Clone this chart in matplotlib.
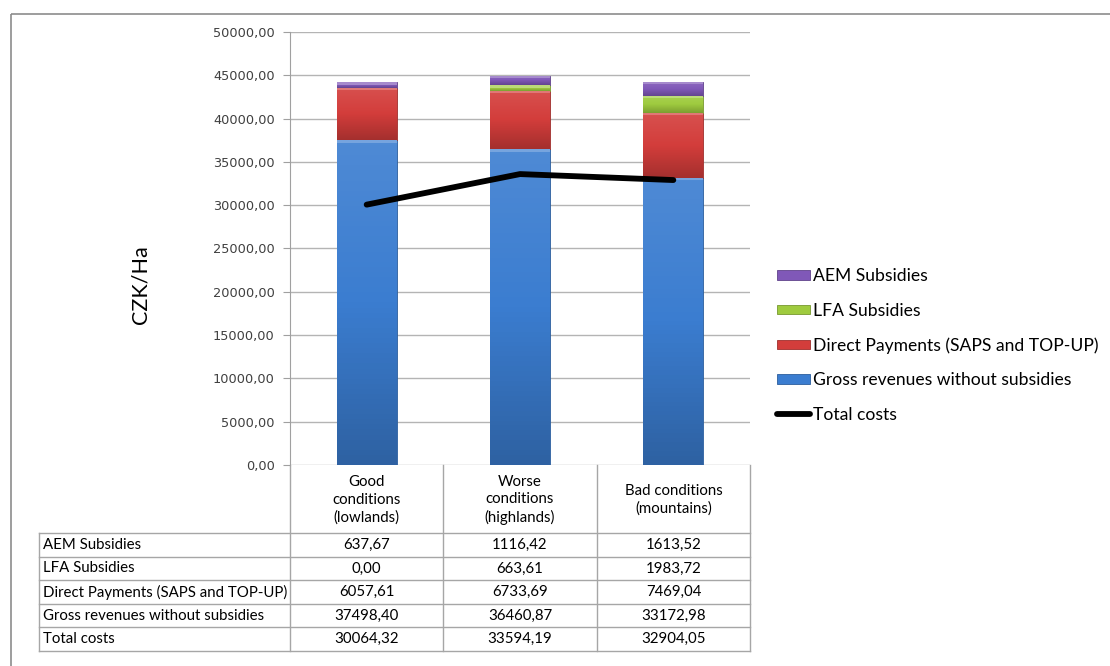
import numpy as np
import matplotlib.pyplot as plt
from matplotlib.colors import LinearSegmentedColormap, to_rgb
from matplotlib.patches import Rectangle, Patch
from matplotlib.lines import Line2D

# -----------------------------
# DATA (CZK per hectare)
# -----------------------------
categories = ["Good\nconditions\n(lowlands)", "Worse\nconditions\n(highlands)", "Bad conditions\n(mountains)"]
gross_revenues = [37498.40, 36460.87, 33172.98]
direct_payments = [6057.61, 6733.69, 7469.04]
lfa_subsidies = [0.00, 663.61, 1983.72]
aem_subsidies = [637.67, 1116.42, 1613.52]
total_costs = [30064.32, 33594.19, 32904.05]

series_names = ["Gross revenues without subsidies", "Direct Payments (SAPS and TOP-UP)",
                "LFA Subsidies", "AEM Subsidies"]
series_values = [gross_revenues, direct_payments, lfa_subsidies, aem_subsidies]
series_colors = ["#3b7dd0", "#d33d3b", "#9fcb3f", "#8058b8"]

yticks = np.arange(0, 50001, 5000)

def fmt(v):
    return f"{v:.2f}".replace(".", ",")

def shade(c, f):
    r, g, b = to_rgb(c)
    if f >= 1:
        return (r + (1 - r) * (f - 1), g + (1 - g) * (f - 1), b + (1 - b) * (f - 1))
    return (r * f, g * f, b * f)

W, H = 1110, 666
fig = plt.figure(figsize=(W / 100, H / 100), dpi=100, facecolor="white")

# pixel-space overlay for the frame, axis title and the data table
pax = fig.add_axes([0, 0, 1, 1], zorder=0)
pax.set_xlim(0, W)
pax.set_ylim(H, 0)
pax.axis("off")

ax = fig.add_axes([290 / W, 1 - 465 / H, 460 / W, 433 / H], zorder=1)
ax.patch.set_alpha(0)

x = np.arange(len(categories))
bw = 0.39
bottom = np.zeros(len(categories))
for name, vals, col in zip(series_names, series_values, series_colors):
    vals = np.array(vals)
    bars = ax.bar(x, vals, bw, bottom=bottom, color=col, edgecolor=shade(col, 0.75),
                  linewidth=0.6, zorder=2, label=name)
    cmap = LinearSegmentedColormap.from_list(name, [shade(col, 1.1), col, shade(col, 0.78)])
    grad = np.linspace(0, 1, 64).reshape(-1, 1)
    for rect, b0, v in zip(bars, bottom, vals):
        if v <= 0:
            continue
        im = ax.imshow(grad, cmap=cmap, aspect="auto", zorder=2.1,
                       extent=[rect.get_x(), rect.get_x() + bw, b0, b0 + v], origin="upper")
        im.set_clip_path(rect)
        # light bevel strip along the top of each segment
        ax.add_patch(Rectangle((rect.get_x(), b0 + v - min(v, 280)), bw, min(v, 280),
                               color=shade(col, 1.3), lw=0, zorder=2.2, clip_on=False))
    bottom += vals

ax.plot(x, total_costs, color="black", lw=4.2, solid_capstyle="round", zorder=3)

ax.set_xlim(-0.5, len(categories) - 0.5)
ax.set_ylim(0, 50000)
ax.set_yticks(yticks)
ax.set_yticklabels([fmt(v) for v in yticks], fontsize=9.3, color="#404040", family="DejaVu Sans")
ax.set_xticks([])
ax.grid(axis="y", color="#b4b4b4", lw=1, zorder=0)
ax.tick_params(axis="y", length=5, color="#a0a0a0", pad=6)
for s in ["top", "right", "bottom"]:
    ax.spines[s].set_visible(False)
ax.spines["left"].set_color("#a0a0a0")
pax.text(141, 285, "CZK/Ha", rotation=90, ha="center", va="center",
         family="Lato", fontsize=15.5, color="black")

handles = [Patch(facecolor=series_colors[i], edgecolor=shade(series_colors[i], 0.75), lw=0.6)
           for i in range(3, -1, -1)]
handles.append(Line2D([], [], color="black", lw=4.2, solid_capstyle="round"))
labels = [series_names[i] for i in range(3, -1, -1)] + ["Total costs"]
ax.legend(handles, labels, loc="upper left", bbox_to_anchor=(777 / W, 1 - 268 / H),
          bbox_transform=fig.transFigure, frameon=False,
          prop={"family": "Lato", "size": 12.6}, handlelength=1.9, handleheight=0.46,
          handletextpad=0.17, labelspacing=1.06, borderaxespad=0, borderpad=0)

# outer chart frame
pax.add_patch(Rectangle((11, 14), W, H, fill=False, ec="#8c8c8c", lw=1.2))

# data table under the axis
col_x = [39, 290, 443, 597, 750]
header_top, header_bot = 465, 533
row_h = 23.6
table_rows = [("AEM Subsidies", aem_subsidies), ("LFA Subsidies", lfa_subsidies),
              ("Direct Payments (SAPS and TOP-UP)", direct_payments),
              ("Gross revenues without subsidies", gross_revenues),
              ("Total costs", total_costs)]
table_bot = header_bot + row_h * len(table_rows)
lc = "#a6a6a6"
for cx in col_x[1:]:
    pax.plot([cx, cx], [header_top, table_bot], color=lc, lw=1)
pax.plot([col_x[0], col_x[0]], [header_bot, table_bot], color=lc, lw=1)
for k in range(len(table_rows) + 1):
    yy = header_bot + k * row_h
    pax.plot([col_x[0], col_x[-1]], [yy, yy], color=lc, lw=1)
tfont = {"family": "Lato", "size": 10.8, "color": "black"}
for j, cat in enumerate(categories):
    cx = (col_x[j + 1] + col_x[j + 2]) / 2
    pax.text(cx, (header_top + header_bot) / 2 + 1, cat, ha="center", va="center",
             linespacing=1.3, **tfont)
for k, (lab, vals) in enumerate(table_rows):
    yc = header_bot + (k + 0.5) * row_h
    pax.text(col_x[0] + 4, yc, lab, ha="left", va="center", **tfont)
    for j, v in enumerate(vals):
        cx = (col_x[j + 1] + col_x[j + 2]) / 2
        pax.text(cx, yc, fmt(v), ha="center", va="center", **tfont)

fig.savefig("out.png", dpi=100, facecolor="white")
